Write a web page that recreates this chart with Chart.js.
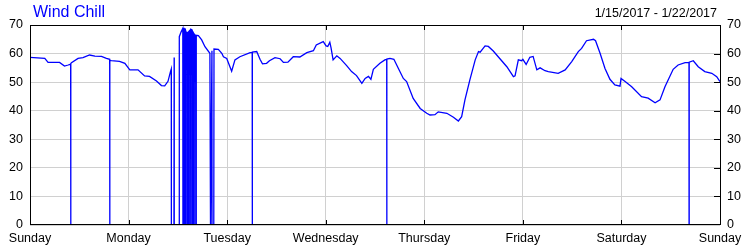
<!DOCTYPE html>
<html>
<head>
<meta charset="utf-8">
<script src="https://cdn.jsdelivr.net/npm/chart.js@4.4.1/dist/chart.umd.min.js"></script>
<style>
  body { margin: 0; background: #fff; }
  #wrap { position: relative; width: 750px; height: 250px; }
  #title { position: absolute; left: 33px; top: 4px; font: 16px Arial, 'Liberation Sans', sans-serif; line-height: 16px; color: #0000ff; white-space: nowrap; }
  #range { position: absolute; right: 33px; top: 7px; font: 12.5px Arial, 'Liberation Sans', sans-serif; line-height: 12.5px; color: #000; white-space: nowrap; }
</style>
</head>
<body>
<div id="wrap">
  <canvas id="myChart" width="750" height="250"></canvas>
  <div id="title">Wind Chill</div>
  <div id="range">1/15/2017 - 1/22/2017</div>
</div>
<script>
// hours since Sunday 1/15 00:00, wind chill (F); zeros are sensor dropouts
const hours = [
  0, 3.6, 4.4, 7.2, 8.4, 9.3, 9.9, 9.92, 9.95, 10.1, 11.7, 12.9, 14.5, 15.8, 17.4, 18.6,
  19.4, 19.42, 19.45, 19.8, 21.8, 23.1, 24.3, 26.3, 27.9, 29.1, 30.8, 32.0, 32.8, 33.6, 34.2,
  34.4, 34.42, 35.05, 35.1, 35.12, 36.3, 36.35, 36.8,
  37.2, 37.22, 37.25, 37.5, 37.52, 37.55, 37.8, 37.82, 37.85, 38.15, 38.17, 38.2,
  38.45, 38.47, 38.5, 38.75, 38.77, 38.8, 39.1, 39.12, 39.15, 39.45, 39.47, 39.5,
  39.75, 39.77, 39.8, 40.1, 40.12, 40.15, 40.45, 40.47, 40.5,
  41.0, 41.8, 42.6, 43.8, 43.95, 44.3, 44.32, 44.75, 44.8, 45.85, 46.7, 47.1, 47.9, 49.1, 49.9,
  51.1, 53.6, 54.1, 54.12, 54.15, 55.2, 56.0, 56.6, 57.6, 58.3, 59.65, 60.9, 61.7, 62.8, 64.1,
  65.7, 67.4, 69.0, 69.7, 71.4, 72.1, 72.5, 73.0, 73.3, 73.8, 74.7, 75.5, 77.1, 78.3, 79.5,
  80.8, 81.6, 82.4, 83.0, 83.6, 85.2, 86.4, 86.85, 86.87, 86.9, 87.65, 88.6, 89.7, 90.9, 91.7,
  93.3, 95.0, 96.6, 97.4, 98.6, 99.4, 101.5, 103.1, 104.3, 105.1, 105.9, 107.1, 108.4, 109.2,
  109.6, 110.8, 111.6, 112.8, 114.0, 116.1, 117.7, 118.1, 118.9, 119.7, 120.0, 120.8, 121.7,
  122.5, 123.4, 124.2, 125.4, 126.2, 128.6, 130.3, 131.9, 133.5, 134.3, 135.5, 137.2, 137.7,
  138.8, 140.0, 141.2, 142.4, 143.65, 143.9, 144.9, 146.5, 148.9, 150.5, 152.2, 153.4, 154.6,
  156.6, 157.8, 159.5, 160.45, 160.47, 160.5, 161.5, 162.7, 164.3, 166.0, 167.2, 168.0
];
const windChill = [
  58.7, 58.3, 56.9, 56.9, 55.6, 56.0, 56.3, 0, 56.5, 56.8, 58.3, 58.6, 59.5, 59.1, 59.0, 58.3,
  58.0, 0, 57.6, 57.5, 57.3, 56.6, 54.3, 54.3, 52.2, 52.0, 50.4, 48.8, 48.7, 50.3, 53.7,
  54.6, 0, 0, 58.6, 0, 0, 65.9, 67.6,
  68.8, 0, 68.8, 68.8, 0, 68.7, 68.6, 0, 68.3, 67.1, 0, 67.2,
  67.4, 0, 67.5, 67.8, 0, 68.0, 68.4, 0, 68.5, 68.3, 0, 68.0,
  67.4, 0, 67.2, 66.6, 0, 66.5, 66.4, 0, 66.4,
  66.3, 64.8, 62.4, 60.1, 0, 61.0, 0, 0, 61.6, 61.5, 60.1, 58.9, 58.3, 53.8, 57.8,
  58.9, 60.3, 60.4, 0, 60.5, 60.7, 58.0, 56.4, 56.6, 57.5, 58.6, 58.2, 56.9, 57.0, 58.9,
  58.8, 60.3, 61.0, 63.0, 64.2, 62.7, 62.5, 64.0, 62.0, 57.8, 59.2, 58.3, 55.8, 53.7, 52.3,
  49.6, 51.3, 52.0, 51.0, 54.5, 56.6, 57.8, 58.0, 0, 58.1, 58.3, 58.0, 54.8, 51.3, 50.2,
  44.3, 40.8, 39.1, 38.5, 38.6, 39.6, 39.1, 37.7, 36.4, 37.9, 43.8, 50.8, 57.8, 60.7,
  60.5, 62.7, 62.5, 60.9, 58.9, 55.4, 51.9, 52.2, 57.8, 57.5, 58.0, 56.2, 58.7,
  59.0, 54.3, 55.0, 54.0, 53.7, 53.1, 54.3, 57.2, 60.7, 61.8, 64.5, 65.0, 64.5,
  60.1, 54.8, 51.0, 49.0, 48.6, 51.3, 50.2, 48.4, 44.9, 44.4, 42.8, 43.8, 48.4,
  54.5, 56.0, 56.8, 56.9, 0, 57.0, 57.5, 55.4, 53.7, 53.1, 51.9, 50.2
];
const dayLabels = ['Sunday', 'Monday', 'Tuesday', 'Wednesday', 'Thursday', 'Friday', 'Saturday', 'Sunday'];
const yMin = 0, yMax = 70, yStep = 10;

const points = hours.map((h, i) => ({ x: h, y: windChill[i] }));
const tickFont = { family: "Arial, 'Liberation Sans', sans-serif", size: 12.5 };
const gridGray = '#d0d0d0';

// black frame with inward tick marks like the original
const frame = {
  id: 'frame',
  afterDraw(chart) {
    const { ctx, chartArea: a, scales } = chart;
    ctx.save();
    ctx.strokeStyle = '#000';
    ctx.lineWidth = 1;
    ctx.strokeRect(a.left + 0.5, a.top + 0.5, a.right - a.left, a.bottom - a.top - 1);
    ctx.beginPath();
    for (let d = 1; d < dayLabels.length - 1; d++) {
      const x = Math.round(scales.x.getPixelForValue(d * 24)) + 0.5;
      ctx.moveTo(x, a.top); ctx.lineTo(x, a.top + 5);
      ctx.moveTo(x, a.bottom); ctx.lineTo(x, a.bottom - 5);
    }
    for (let v = yMin + yStep; v < yMax; v += yStep) {
      const y = Math.round(scales.y2.getPixelForValue(v)) + 0.5;
      ctx.moveTo(a.right, y); ctx.lineTo(a.right - 6, y);
    }
    ctx.stroke();
    ctx.restore();
  }
};

new Chart(document.getElementById('myChart'), {
  type: 'line',
  data: {
    datasets: [{
      label: 'Wind Chill',
      data: points,
      borderColor: '#0000ff',
      borderWidth: 1.3,
      pointRadius: 0,
      tension: 0,
      yAxisID: 'y'
    }]
  },
  options: {
    responsive: false,
    animation: false,
    devicePixelRatio: 1,
    layout: { padding: { top: 25, left: 0, right: 0, bottom: 0 } },
    plugins: { legend: { display: false }, tooltip: { enabled: false } },
    scales: {
      x: {
        type: 'linear',
        min: 0, max: 168,
        afterFit: s => { s.height = 25; },
        afterBuildTicks: s => { s.ticks = dayLabels.map((_, i) => ({ value: i * 24 })); },
        ticks: {
          autoSkip: false, maxRotation: 0, padding: 6, color: '#000', font: tickFont,
          callback: v => dayLabels[Math.round(v / 24)]
        },
        grid: { color: gridGray, drawTicks: false },
        border: { display: false }
      },
      y: {
        position: 'left',
        min: yMin, max: yMax,
        afterFit: s => { s.width = 30; },
        ticks: { stepSize: yStep, padding: 7, color: '#000', font: tickFont },
        grid: { color: gridGray, drawTicks: false },
        border: { display: false }
      },
      y2: {
        position: 'right',
        min: yMin, max: yMax,
        afterFit: s => { s.width = 30; },
        ticks: { stepSize: yStep, padding: 7, color: '#000', font: tickFont },
        grid: { display: false, drawTicks: false },
        border: { display: false }
      }
    }
  },
  plugins: [frame]
});
</script>
</body>
</html>
